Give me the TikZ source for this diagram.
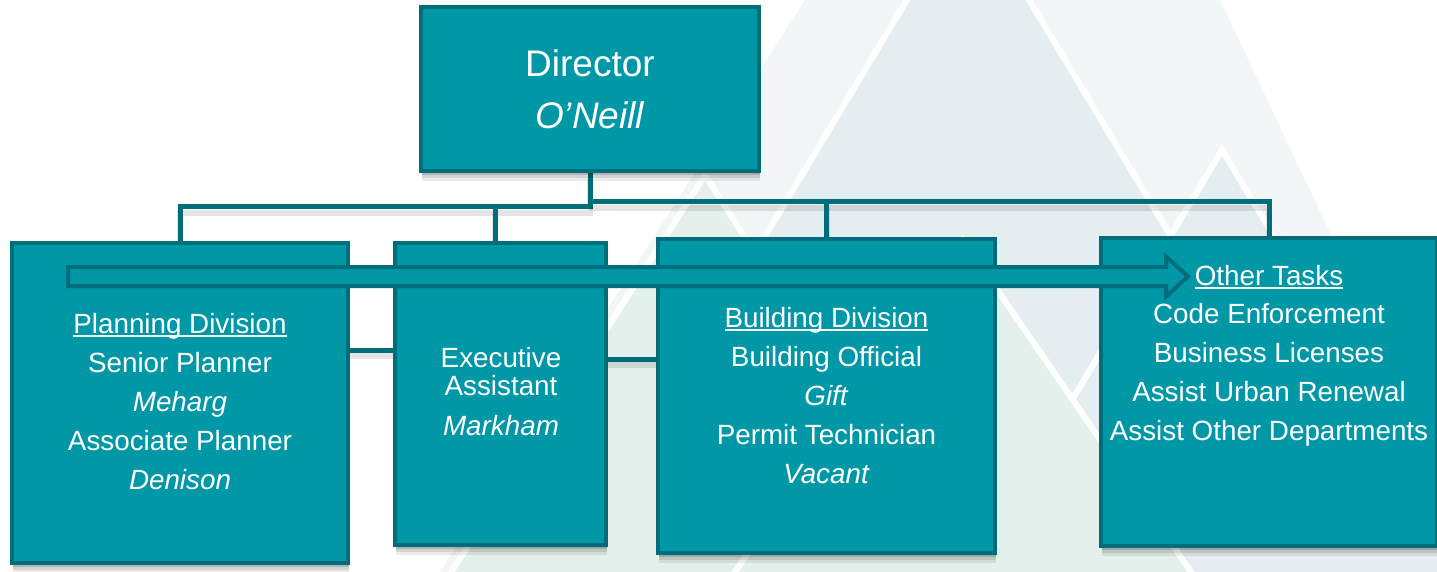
\documentclass[tikz,border=0pt]{standalone}
\usepackage{fontspec}
\setmainfont{Liberation Sans}
\usetikzlibrary{calc}
\definecolor{teal1}{RGB}{0,151,167}
\definecolor{tealdk}{RGB}{0,110,122}
\definecolor{wmgray}{RGB}{243,246,246}
\definecolor{wmblue}{RGB}{228,237,240}
\definecolor{wmgreen}{RGB}{228,240,235}
\pgfdeclarelayer{back}
\pgfsetlayers{back,main}
\newsavebox\ulbox
\newcommand\myul[1]{\sbox\ulbox{#1}\rlap{\rule[-3.5pt]{\wd\ulbox}{1.5pt}}\usebox\ulbox}
\tikzset{
  box/.style={draw=tealdk, line width=4pt, fill=teal1, inner sep=0pt,
    preaction={fill=black, fill opacity=.08, transform canvas={xshift=1pt,yshift=-10pt}},
    preaction={fill=black, fill opacity=.10, transform canvas={xshift=1pt,yshift=-7pt}},
    preaction={fill=black, fill opacity=.15, transform canvas={xshift=1pt,yshift=-4pt}}},
  txt/.style={text=white, align=center, inner sep=0pt, font=\fontsize{27.8pt}{39pt}\selectfont},
  conn/.style={draw=tealdk, line width=5pt,
    preaction={draw=black, draw opacity=.10, line width=6pt, transform canvas={yshift=-6pt}}},
  arrowbox/.style={draw=tealdk, fill=teal1, line width=4pt, line join=miter},
  wmtri/.style={draw=white, line width=6pt, line join=miter}
}
\begin{document}
\begin{tikzpicture}[x=1pt,y=-1pt]
\useasboundingbox (0,0) rectangle (1437,572);
\begin{pgfonlayer}{back}
  \fill[white] (0,0) rectangle (1437,572);
  % watermark
  \fill[wmgray] (805,0) -- (1220,0) -- (1490,572) -- (440,572) -- cycle;
  \filldraw[wmtri, fill=wmblue] (968,-102) -- (1380,585) -- (556,585) -- cycle;
  \filldraw[wmtri, fill=wmgreen] (705,175) -- (967,585) -- (443,585) -- cycle;
  \filldraw[wmtri, fill=wmblue] (1222,150) -- (1483,585) -- (961,585) -- cycle;
  \filldraw[wmtri, fill=wmgreen] (963,240) -- (1200,585) -- (726,585) -- cycle;
\end{pgfonlayer}

% boxes
\node[box, minimum width=338pt, minimum height=164pt] (dir) at (590,89) {};
\node[box, minimum width=336pt, minimum height=320pt] (plan) at (180,403) {};
\node[box, minimum width=211pt, minimum height=302pt] (exec) at (500.5,394) {};
\node[box, minimum width=337pt, minimum height=314pt] (build) at (826.5,396) {};
\node[box, minimum width=336pt, minimum height=308pt] (other) at (1269,392) {};

% connectors
\coordinate (tL) at (590,207);
\coordinate (tR) at (590,202);
\coordinate (eJ) at (495,207);
\coordinate (bJ) at (826.5,202);
\coordinate (s1) at (0,350);
\coordinate (s2) at (0,359);
\begin{pgfonlayer}{back}
  \draw[conn] (dir.south) -- (tL) -| (plan.north);
  \draw[conn] (tR) -| (other.north);
  \draw[conn] (eJ) -- (eJ |- exec.north);
  \draw[conn] (bJ) -- (build.north);
  \draw[conn] (plan.east |- s1) -- (exec.west |- s1);
  \draw[conn] (exec.east |- s2) -- (build.west |- s2);
\end{pgfonlayer}

% arrow
\coordinate (aS) at (68,276.5);
\coordinate (aE) at (1188,276.5);
\draw[arrowbox] ($(aS)+(0,-9.5)$) -- ($(aE)+(-22,-9.5)$) -- ($(aE)+(-22,-20)$) -- (aE)
  -- ($(aE)+(-22,20)$) -- ($(aE)+(-22,9.5)$) -- ($(aS)+(0,9.5)$) -- cycle;

% texts
\node[txt, font=\fontsize{37pt}{52pt}\selectfont] (dirt) at (590,89) {Director\\\textit{O’Neill}};
\node[txt] (plant) at (180,401.5) {\myul{Planning Division}\\Senior Planner\\\textit{Meharg}\\Associate Planner\\\textit{Denison}};
\node[txt, font=\fontsize{27.8pt}{28pt}\selectfont] (exect) at (501,392) {Executive\\Assistant\\[12pt]\textit{Markham}};
\node[txt] (buildt) at (826.5,395.5) {\myul{Building Division}\\Building Official\\\textit{Gift}\\Permit Technician\\\textit{Vacant}};
\node[txt, font=\fontsize{27.8pt}{38.8pt}\selectfont] (othert) at (1269,355.5) {\myul{Other Tasks}\\Code Enforcement\\Business Licenses\\Assist Urban Renewal\\Assist Other Departments};
\end{tikzpicture}
\end{document}
